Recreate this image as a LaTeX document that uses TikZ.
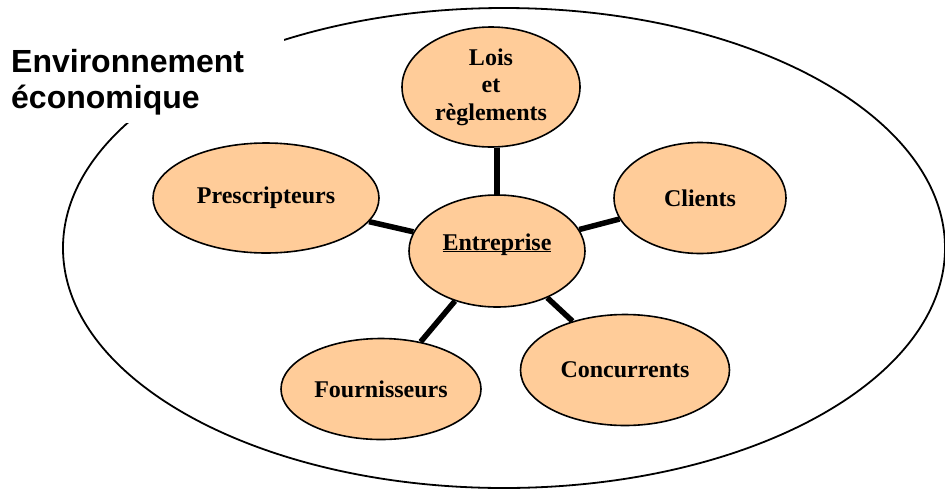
\documentclass[tikz,border=0pt]{standalone}
\usepackage{fontspec}
\setmainfont{Liberation Serif}
\newfontfamily\arialfont{Liberation Sans}
\usetikzlibrary{shapes.geometric}
\definecolor{bubble}{HTML}{FFCC99}
\begin{document}
\begin{tikzpicture}[x=1pt,y=-1pt,
  bub/.style={ellipse,draw=black,line width=1.6pt,fill=bubble,inner sep=0pt,
    align=center,font=\fontsize{24}{27.6}\selectfont\bfseries},
  link/.style={line width=5.5pt,draw=black},
  envlabel/.style={font=\fontsize{32}{36}\selectfont\arialfont\bfseries,align=left,inner sep=0pt}]
\useasboundingbox (0,0) rectangle (945,488);
% outer environment ellipse
\node[ellipse,draw=black,line width=1.8pt,minimum width=882pt,minimum height=480pt,inner sep=0pt] (env) at (504,248) {};
\fill[white] (5,20) rectangle (284,123);
\node[envlabel,anchor=base west] (envtext) at (11,108) {Environnement\\\'economique};
% bubbles
\node[bub,minimum width=176pt,minimum height=112pt] (e) at (497,251) {\underline{\smash{Entreprise}}};
\node[bub,minimum width=178pt,minimum height=120pt] (l) at (491,87) {Lois\\et\\r\`eglements};
\node[bub,minimum width=226pt,minimum height=110pt] (p) at (266,198) {Prescripteurs};
\node[bub,minimum width=172pt,minimum height=111pt] (c) at (700,198) {Clients};
\node[bub,minimum width=209pt,minimum height=111pt] (k) at (625,370) {Concurrents};
\node[bub,minimum width=200pt,minimum height=101pt] (f) at (381,389) {Fournisseurs};
% connectors
\draw[link] (e.north) -- (e.north |- l.south);
\draw[link] (e) -- (p);
\draw[link] (e) -- (c);
\draw[link] (e) -- (k);
\draw[link] (e) -- (f);
\end{tikzpicture}
\end{document}
